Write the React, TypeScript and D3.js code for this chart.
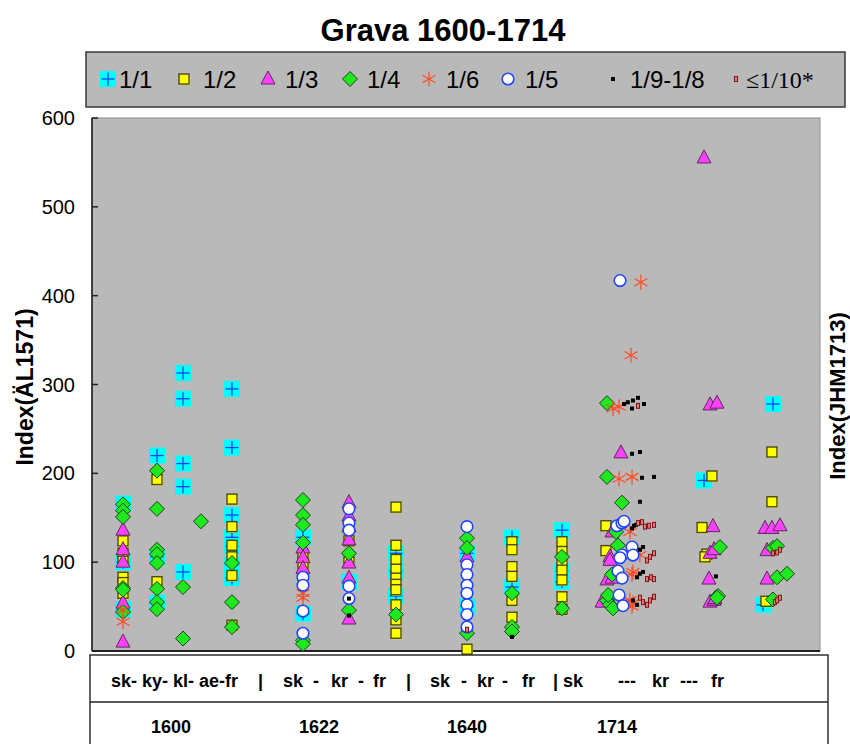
import React from 'react';
import * as d3 from 'd3';

const W = 850;
const H = 744;

const chartTitle = 'Grava 1600-1714';
const yTicks = [0, 100, 200, 300, 400, 500, 600];
const yTitleLeft = 'Index(ÄL1571)';
const yTitleRight = 'Index(JHM1713)';

// x positions are in column units (0..100), y values are the index
const s11: [number, number][] = [
  [4.26, 166], [4.26, 100], [4.26, 47],
  [8.93, 220], [8.93, 106], [8.93, 54],
  [12.5, 313], [12.5, 284], [12.5, 211], [12.5, 185], [12.5, 89],
  [19.23, 295], [19.23, 229], [19.23, 153], [19.23, 128], [19.23, 118], [19.23, 97], [19.23, 82],
  [28.98, 128], [28.98, 42],
  [35.3, 78],
  [41.76, 110], [41.76, 90], [41.76, 62],
  [51.51, 110], [51.51, 50],
  [57.69, 128], [57.69, 72],
  [64.56, 136], [64.56, 90], [64.56, 78],
  [84.07, 192],
  [93.54, 278], [92.17, 52],
];
const s12: [number, number][] = [
  [4.26, 124], [4.26, 110], [4.26, 101], [4.26, 83], [4.26, 77], [4.26, 65],
  [8.93, 193], [8.93, 78],
  [19.23, 171], [19.23, 140], [19.23, 119], [19.23, 106], [19.23, 85], [19.23, 29],
  [28.98, 108], [28.98, 98],
  [35.3, 124], [35.3, 100],
  [41.76, 162], [41.76, 119], [41.76, 103], [41.76, 92], [41.76, 82], [41.76, 75], [41.76, 69], [41.76, 52], [41.76, 35], [41.76, 20],
  [51.51, 2],
  [57.69, 123], [57.69, 114], [57.69, 95], [57.69, 84], [57.69, 57], [57.69, 38],
  [64.56, 123], [64.56, 112], [64.56, 99], [64.56, 91], [64.56, 80], [64.56, 61], [64.56, 47],
  [70.6, 141], [70.6, 113],
  [85.16, 197], [83.8, 139], [84.48, 109], [84.2, 106],
  [93.4, 224], [93.4, 168], [92.58, 56],
];
const s13: [number, number][] = [
  [4.26, 136], [4.26, 114], [4.26, 100], [4.26, 54], [4.26, 10],
  [28.98, 116], [28.98, 105], [28.98, 93],
  [35.3, 167], [35.3, 152], [35.3, 140], [35.3, 125], [35.3, 99], [35.3, 82], [35.3, 36],
  [51.51, 106],
  [72.66, 223], [71.43, 134], [71.15, 106], [71.15, 102], [70.74, 80], [71.43, 82], [70.05, 55],
  [84.07, 555], [84.9, 277], [85.85, 279], [85.3, 140], [84.9, 110], [85.44, 114], [84.75, 81], [84.9, 55], [85.44, 57], [85.58, 59],
  [92.45, 138], [93.4, 138], [94.5, 141], [92.72, 113], [92.72, 81],
];
const s14: [number, number][] = [
  [4.26, 165], [4.26, 158], [4.26, 151], [4.26, 71], [4.26, 69], [4.26, 44],
  [8.93, 203], [8.93, 160], [8.93, 114], [8.93, 109], [8.93, 99], [8.93, 70], [8.93, 55], [8.93, 47],
  [12.5, 72], [12.5, 14],
  [14.97, 146],
  [19.23, 99], [19.23, 55], [19.23, 27],
  [28.98, 170], [28.98, 153], [28.98, 142], [28.98, 122], [28.98, 12], [28.98, 8],
  [35.3, 110], [35.3, 46],
  [41.76, 41],
  [51.51, 127], [51.51, 116], [51.51, 20],
  [57.69, 65], [57.69, 27], [57.69, 22],
  [64.56, 106], [64.56, 48],
  [70.74, 279], [70.74, 196], [72.8, 167], [71.98, 134], [72.25, 119], [71.43, 86], [70.74, 57], [71.15, 52], [71.57, 48], [70.9, 63],
  [86.26, 117], [86.0, 62], [85.85, 60],
  [93.54, 116], [94.1, 118], [94.1, 83], [95.47, 87], [93.54, 58],
];
const s16: [number, number][] = [
  [4.26, 46], [4.26, 33],
  [28.98, 65], [28.98, 60],
  [75.4, 415], [74.04, 333], [71.57, 273], [72.4, 275], [72.4, 194], [74.18, 196],
  [73.9, 134], [75.27, 108], [74.18, 86], [74.31, 89], [73.9, 57], [74.31, 54], [74.18, 50],
];
const s15: [number, number][] = [
  [28.98, 83], [28.98, 74], [28.98, 45], [28.98, 20],
  [35.3, 160], [35.3, 144], [35.3, 136], [35.3, 73], [35.3, 59],
  [51.51, 140], [51.51, 97], [51.51, 86], [51.51, 74], [51.51, 65], [51.51, 52], [51.51, 41], [51.51, 27],
  [72.53, 417], [72.1, 141], [72.8, 144], [73.08, 146], [72.8, 108], [72.53, 105], [74.18, 117], [74.31, 108],
  [72.25, 90], [72.8, 82], [72.4, 63], [72.94, 51],
];
const s19: [number, number][] = [
  [35.3, 59], [35.3, 40],
  [57.69, 16],
  [73.08, 278], [73.6, 280], [74.31, 282], [75.0, 285], [75.82, 278], [74.18, 273],
  [74.18, 222], [75.27, 224],
  [75.55, 195], [77.2, 196],
  [75.27, 168],
  [74.18, 138], [74.45, 141], [74.73, 142],
  [75.27, 114], [75.69, 117],
  [74.86, 83], [75.27, 87], [75.69, 89],
  [74.31, 57], [74.86, 52],
  [85.7, 84],
];
const s110: [number, number][] = [
  [51.51, 24],
  [75.0, 276],
  [75.0, 144], [75.55, 145], [75.96, 140], [76.5, 141], [77.2, 142],
  [76.24, 102], [76.65, 106], [77.2, 110],
  [76.24, 81], [76.8, 83], [77.2, 81],
  [75.27, 60], [75.69, 55], [76.24, 52], [76.65, 57], [77.2, 61],
  [93.54, 110], [94.1, 111], [94.5, 114],
  [93.8, 55], [94.1, 57], [94.5, 60],
];

const seriesNames = ['1/1', '1/2', '1/3', '1/4', '1/6', '1/5', '1/9-1/8', '≤1/10*'];
const seriesKinds = ['plus', 'square', 'triangle', 'diamond', 'asterisk', 'circle', 'dot', 'bar'];
const seriesData = [s11, s12, s13, s14, s16, s15, s19, s110];

// legend layout positions (marker x, text x)
const legendMarkerX = [108, 184, 268, 350, 429, 508, 613, 736];
const legendTextX = [119, 203, 285, 367, 446, 525, 630, 746];

// table texts
const groupTokens: [number, string][] = [
  [111, 'sk- ky- kl- ae-fr'], [258, '|'],
  [283, 'sk'], [313, '-'], [331, 'kr'], [358, '-'], [373, 'fr'], [406, '|'],
  [430, 'sk'], [461, '-'], [477, 'kr'], [502, '-'], [522, 'fr'],
  [553, '| sk'], [618, '---'], [652, 'kr'], [680, '---'], [711, 'fr'],
];
const yearLabels = ['1600', '1622', '1640', '1714'];
const yearX = [171, 319, 467, 617];

const FONT = 'Liberation Sans, Arial, Helvetica, sans-serif';

function Marker({ kind, x, y }: { kind: string; x: number; y: number }) {
  switch (kind) {
    case 'plus':
      return (
        <g transform={`translate(${x},${y})`}>
          <rect x={-8} y={-8} width={16} height={16} fill="#00ffff" />
          <line x1={-6.5} x2={6.5} y1={0} y2={0} stroke="#1a3cff" strokeWidth={1.3} />
          <line x1={0} x2={0} y1={-6.5} y2={6.5} stroke="#1a3cff" strokeWidth={1.3} />
        </g>
      );
    case 'square':
      return (
        <g transform={`translate(${x},${y})`}>
          <rect x={-4} y={-4} width={10} height={10} fill="#ffff00" />
          <rect x={-5} y={-5} width={10} height={10} fill="#ffff00" stroke="#4a4a10" strokeWidth={1.4} />
        </g>
      );
    case 'triangle':
      return (
        <path transform={`translate(${x},${y})`} d="M0,-8 L7,5 L-7,5 Z" fill="#ff40ff" stroke="#5a2a5a" strokeWidth={1} />
      );
    case 'diamond':
      return (
        <path transform={`translate(${x},${y})`} d="M0,-7.5 L7.5,0 L0,7.5 L-7.5,0 Z" fill="#1ee81e" stroke="#1d3d1d" strokeWidth={1} />
      );
    case 'asterisk': {
      const r = 7.5;
      const a = [90, 30, -30];
      return (
        <g transform={`translate(${x},${y})`} stroke="#ff4a22" strokeWidth={1.2}>
          {a.map((deg) => {
            const rad = (deg * Math.PI) / 180;
            return (
              <line key={deg} x1={-r * Math.cos(rad)} y1={-r * Math.sin(rad)} x2={r * Math.cos(rad)} y2={r * Math.sin(rad)} />
            );
          })}
        </g>
      );
    }
    case 'circle':
      return <circle cx={x} cy={y} r={5.8} fill="#ffffff" stroke="#2244ff" strokeWidth={1.6} />;
    case 'dot':
      return <rect x={x - 2} y={y - 2} width={4} height={4} fill="#000000" />;
    case 'bar':
      return <rect x={x - 1.5} y={y - 2.5} width={3} height={5} fill="#d08080" stroke="#8a1010" strokeWidth={1} />;
    default:
      return null;
  }
}

export default function App() {
  const plotLeft = 92;
  const plotRight = 820;
  const plotTop = 118;
  const plotBottom = 651;

  const x = d3.scaleLinear().domain([0, 100]).range([plotLeft, plotRight]);
  const y = d3.scaleLinear().domain([0, 600]).range([plotBottom, plotTop]);

  return (
    <svg
      width={W}
      height={H}
      viewBox={`0 0 ${W} ${H}`}
      style={{ position: 'absolute', left: 0, top: 0, background: '#ffffff' }}
      fontFamily={FONT}
    >
      <rect x={0} y={0} width={W} height={H} fill="#ffffff" />
      {/* Title */}
      <text x={443} y={41} textAnchor="middle" fontSize={31} fontWeight="bold" fill="#000">
        {chartTitle}
      </text>

      {/* Legend */}
      <rect x={86} y={52} width={759} height={55} fill="#b9b9b9" stroke="#3a3a3a" strokeWidth={1.5} />
      {seriesNames.map((name, i) => (
        <g key={name}>
          <Marker kind={seriesKinds[i]} x={legendMarkerX[i]} y={79} />
          <text
            x={legendTextX[i]}
            y={88}
            fontSize={24}
            fontFamily={i === 7 ? 'Liberation Serif, Times New Roman, serif' : FONT}
            fill="#000"
          >
            {name}
          </text>
        </g>
      ))}

      {/* Plot area */}
      <rect x={plotLeft} y={plotTop} width={plotRight - plotLeft} height={plotBottom - plotTop} fill="#b9b9b9" stroke="#8c8c8c" strokeWidth={1} />
      <line x1={plotLeft} x2={plotLeft} y1={plotTop} y2={plotBottom} stroke="#222" strokeWidth={1.6} />
      <line x1={plotLeft} x2={plotRight} y1={plotBottom} y2={plotBottom} stroke="#222" strokeWidth={2} />

      {/* Y ticks */}
      {yTicks.map((t) => (
        <g key={t}>
          <line x1={plotLeft} x2={plotLeft + 6} y1={y(t)} y2={y(t)} stroke="#222" strokeWidth={1.5} />
          <text x={75} y={y(t)} dy="0.35em" textAnchor="end" fontSize={20} fill="#000">
            {t}
          </text>
        </g>
      ))}

      {/* Axis titles */}
      <text transform={`translate(33,${387}) rotate(-90)`} textAnchor="middle" fontSize={23} fontWeight="bold" fill="#000">
        {yTitleLeft}
      </text>
      <text transform={`translate(845,${396}) rotate(-90)`} textAnchor="middle" fontSize={22} fontWeight="bold" fill="#000">
        {yTitleRight}
      </text>

      {/* Data */}
      <g>
        {seriesData.map((data, si) => (
          <g key={seriesNames[si]}>
            {data.map((d, j) => (
              <Marker key={j} kind={seriesKinds[si]} x={x(d[0])} y={y(d[1])} />
            ))}
          </g>
        ))}
      </g>

      {/* Table below */}
      <rect x={90} y={655} width={738} height={100} fill="#ffffff" stroke="#222" strokeWidth={1.4} />
      <line x1={90} x2={828} y1={702} y2={702} stroke="#222" strokeWidth={1.4} />
      {groupTokens.map(([gx, t], i) => (
        <text key={i} x={gx} y={687} fontSize={18} fontWeight="bold" fill="#000" style={{ whiteSpace: 'pre' }}>
          {t}
        </text>
      ))}
      {yearLabels.map((t, i) => (
        <text key={t} x={yearX[i]} y={733} textAnchor="middle" fontSize={18} fontWeight="bold" fill="#000">
          {t}
        </text>
      ))}
    </svg>
  );
}
